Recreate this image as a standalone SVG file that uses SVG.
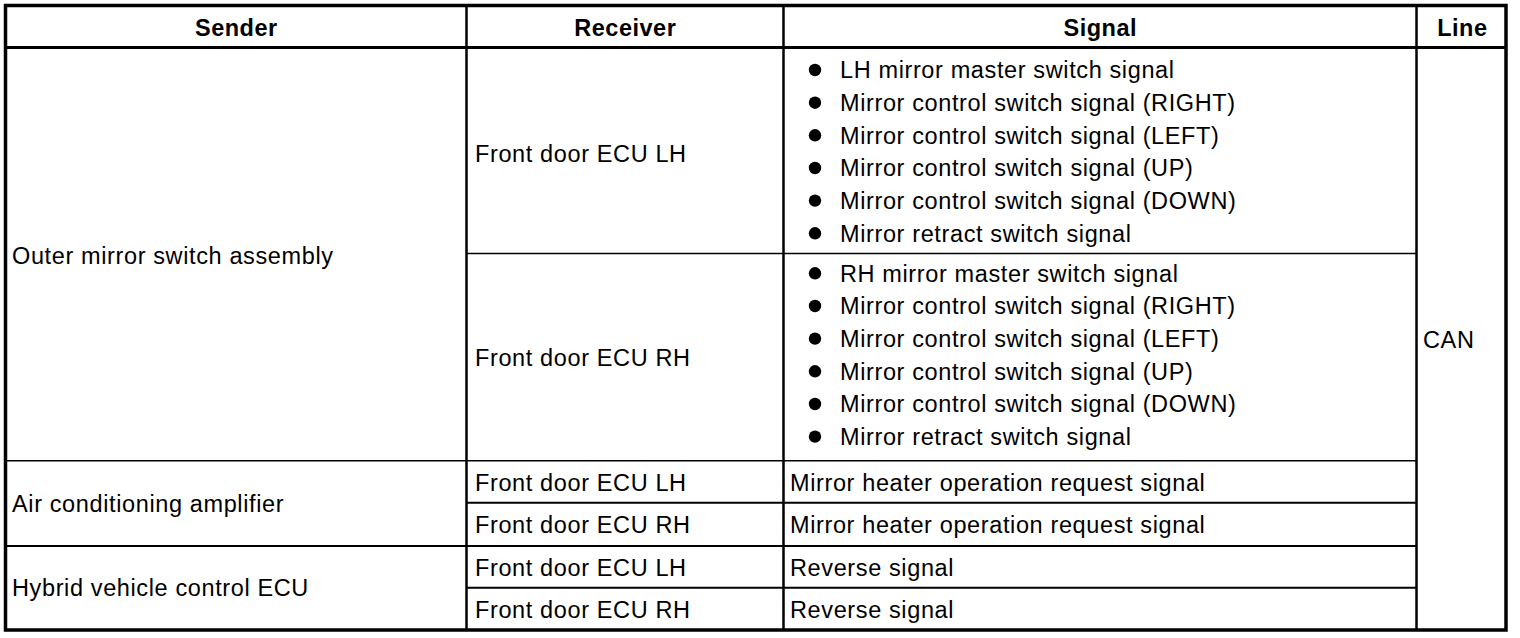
<svg xmlns="http://www.w3.org/2000/svg" width="1520" height="638" viewBox="0 0 1520 638">
<style>
text{font-family:"Liberation Sans",Arial,Helvetica,sans-serif;font-size:23.5px;fill:#000;letter-spacing:0.62px}
.h{font-weight:bold;letter-spacing:0.5px;text-anchor:middle}
.thin{stroke:#000;stroke-width:1.4;fill:none}
.mid{stroke:#000;stroke-width:2;fill:none}
.col{stroke:#000;stroke-width:2.5;fill:none}
.bul{fill:#000}
</style>
<rect x="0" y="0" width="1520" height="638" fill="#fff"/>
<g id="grid">
<line class="thin" x1="466.5" y1="253.5" x2="1416.5" y2="253.5"/>
<line class="thin" x1="5.5" y1="460.7" x2="1416.5" y2="460.7"/>
<line class="mid" x1="466.5" y1="502.7" x2="1416.5" y2="502.7"/>
<line class="mid" x1="5.5" y1="546" x2="1416.5" y2="546"/>
<line class="mid" x1="466.5" y1="587.7" x2="1416.5" y2="587.7"/>
<line class="col" x1="466.5" y1="5.5" x2="466.5" y2="630.5"/>
<line class="col" x1="783.5" y1="5.5" x2="783.5" y2="630.5"/>
<line class="col" x1="1416.5" y1="5.5" x2="1416.5" y2="630.5"/>
<line stroke="#000" stroke-width="3" x1="5.5" y1="47.5" x2="1505.5" y2="47.5"/>
<rect x="5.5" y="5.5" width="1500.5" height="624.5" fill="none" stroke="#000" stroke-width="3.5"/>
</g>
<g id="header">
<text class="h" x="236.3" y="36">Sender</text>
<text class="h" x="625.3" y="36">Receiver</text>
<text class="h" x="1100.3" y="36">Signal</text>
<text class="h" x="1462.3" y="36">Line</text>
</g>
<g id="sender-outer-mirror"><text x="12" y="264">Outer mirror switch assembly</text></g>
<g id="sender-ac"><text x="12" y="512">Air conditioning amplifier</text></g>
<g id="sender-hv"><text x="12" y="596">Hybrid vehicle control ECU</text></g>
<g id="line-can"><text x="1423" y="348">CAN</text></g>
<g id="row-mirror-lh">
<text x="475" y="162">Front door ECU LH</text>
<circle class="bul" cx="815" cy="70" r="6.2"/>
<circle class="bul" cx="815" cy="102.7" r="6.2"/>
<circle class="bul" cx="815" cy="135.3" r="6.2"/>
<circle class="bul" cx="815" cy="168" r="6.2"/>
<circle class="bul" cx="815" cy="200.6" r="6.2"/>
<circle class="bul" cx="815" cy="233.3" r="6.2"/>
<text x="840" y="78.2">LH mirror master switch signal</text>
<text x="840" y="110.9">Mirror control switch signal (RIGHT)</text>
<text x="840" y="143.5">Mirror control switch signal (LEFT)</text>
<text x="840" y="176.2">Mirror control switch signal (UP)</text>
<text x="840" y="208.8">Mirror control switch signal (DOWN)</text>
<text x="840" y="241.5">Mirror retract switch signal</text>
</g>
<g id="row-mirror-rh">
<text x="475" y="366">Front door ECU RH</text>
<circle class="bul" cx="815" cy="273.3" r="6.2"/>
<circle class="bul" cx="815" cy="306" r="6.2"/>
<circle class="bul" cx="815" cy="338.6" r="6.2"/>
<circle class="bul" cx="815" cy="371.3" r="6.2"/>
<circle class="bul" cx="815" cy="404" r="6.2"/>
<circle class="bul" cx="815" cy="436.6" r="6.2"/>
<text x="840" y="281.5">RH mirror master switch signal</text>
<text x="840" y="314.2">Mirror control switch signal (RIGHT)</text>
<text x="840" y="346.8">Mirror control switch signal (LEFT)</text>
<text x="840" y="379.5">Mirror control switch signal (UP)</text>
<text x="840" y="412.2">Mirror control switch signal (DOWN)</text>
<text x="840" y="444.8">Mirror retract switch signal</text>
</g>
<g id="row-ac-lh">
<text x="475" y="491">Front door ECU LH</text>
<text x="790" y="491">Mirror heater operation request signal</text>
</g>
<g id="row-ac-rh">
<text x="475" y="533">Front door ECU RH</text>
<text x="790" y="533">Mirror heater operation request signal</text>
</g>
<g id="row-hv-lh">
<text x="475" y="576">Front door ECU LH</text>
<text x="790" y="576">Reverse signal</text>
</g>
<g id="row-hv-rh">
<text x="475" y="618">Front door ECU RH</text>
<text x="790" y="618">Reverse signal</text>
</g>
</svg>
